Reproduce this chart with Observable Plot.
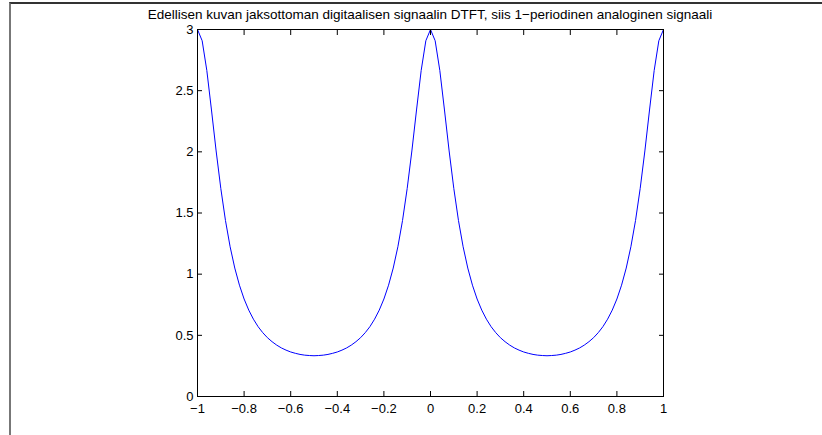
<!DOCTYPE html>
<html>
<head>
<meta charset="utf-8">
<script src="https://cdn.jsdelivr.net/npm/d3@7"></script>
<script src="https://cdn.jsdelivr.net/npm/@observablehq/plot@0.6"></script>
<style>
  html, body { margin: 0; padding: 0; background: #fff; }
  #wrap { position: relative; width: 822px; height: 435px; overflow: hidden; font-family: "Liberation Sans", Arial, sans-serif; }
  #border { position: absolute; left: 9px; top: 2px; width: 830px; height: 440px; border-top: 2px solid #333; border-left: 2px solid #777; box-sizing: border-box; }
  #title { position: absolute; left: 0; width: 860px; top: 7px; text-align: center; font-size: 13.5px; line-height: 15px; color: #000; white-space: nowrap; }
  svg { position: absolute; left: 0; top: 0; }
</style>
</head>
<body>
<div id="wrap">
  <div id="border"></div>
  <div id="title"></div>
</div>
<script>
const titleText = "Edellisen kuvan jaksottoman digitaalisen signaalin DTFT, siis 1\u2212periodinen analoginen signaali";

// normalized frequency, step 0.02 from -1 to 1
const freq = [
  -1.00,-0.98,-0.96,-0.94,-0.92,-0.90,-0.88,-0.86,-0.84,-0.82,
  -0.80,-0.78,-0.76,-0.74,-0.72,-0.70,-0.68,-0.66,-0.64,-0.62,
  -0.60,-0.58,-0.56,-0.54,-0.52,-0.50,-0.48,-0.46,-0.44,-0.42,
  -0.40,-0.38,-0.36,-0.34,-0.32,-0.30,-0.28,-0.26,-0.24,-0.22,
  -0.20,-0.18,-0.16,-0.14,-0.12,-0.10,-0.08,-0.06,-0.04,-0.02,
   0.00, 0.02, 0.04, 0.06, 0.08, 0.10, 0.12, 0.14, 0.16, 0.18,
   0.20, 0.22, 0.24, 0.26, 0.28, 0.30, 0.32, 0.34, 0.36, 0.38,
   0.40, 0.42, 0.44, 0.46, 0.48, 0.50, 0.52, 0.54, 0.56, 0.58,
   0.60, 0.62, 0.64, 0.66, 0.68, 0.70, 0.72, 0.74, 0.76, 0.78,
   0.80, 0.82, 0.84, 0.86, 0.88, 0.90, 0.92, 0.94, 0.96, 0.98,
   1.00
];

// magnitude
const magnitude = [
  3.000,2.908,2.665,2.342,2.007,1.701,1.439,1.224,1.050,0.910,
  0.797,0.706,0.632,0.571,0.522,0.481,0.448,0.420,0.397,0.379,
  0.364,0.353,0.344,0.338,0.335,0.333,0.335,0.338,0.344,0.353,
  0.364,0.379,0.397,0.420,0.448,0.481,0.522,0.571,0.632,0.706,
  0.797,0.910,1.050,1.224,1.439,1.701,2.007,2.342,2.665,2.908,
  3.000,2.908,2.665,2.342,2.007,1.701,1.439,1.224,1.050,0.910,
  0.797,0.706,0.632,0.571,0.522,0.481,0.448,0.420,0.397,0.379,
  0.364,0.353,0.344,0.338,0.335,0.333,0.335,0.338,0.344,0.353,
  0.364,0.379,0.397,0.420,0.448,0.481,0.522,0.571,0.632,0.706,
  0.797,0.910,1.050,1.224,1.439,1.701,2.007,2.342,2.665,2.908,
  3.000
];

const xTicks = [-1, -0.8, -0.6, -0.4, -0.2, 0, 0.2, 0.4, 0.6, 0.8, 1];
const yTicks = [0, 0.5, 1, 1.5, 2, 2.5, 3];

const data = freq.map((f, i) => ({f, m: magnitude[i]}));

const fmt = d => (d < 0 ? "\u2212" : "") + String(Math.abs(d));

const chart = Plot.plot({
  width: 822,
  height: 435,
  marginLeft: 197,
  marginRight: 159,
  marginTop: 29,
  marginBottom: 39,
  style: {fontFamily: "'Liberation Sans', Arial, sans-serif", fontSize: "13px", background: "transparent", color: "#000"},
  x: {domain: [-1, 1], ticks: xTicks},
  y: {domain: [0, 3], ticks: yTicks},
  marks: [
    Plot.line(data, {x: "f", y: "m", stroke: "#0000ff", strokeWidth: 1}),
    Plot.frame({stroke: "#000", strokeWidth: 1}),
    Plot.axisX(xTicks, {anchor: "bottom", tickSize: -5, text: null, label: null}),
    Plot.axisX(xTicks, {anchor: "top", tickSize: -5, text: null, label: null}),
    Plot.axisY(yTicks, {anchor: "left", tickSize: -5, text: null, label: null}),
    Plot.axisY(yTicks, {anchor: "right", tickSize: -5, text: null, label: null}),
    Plot.axisX(xTicks, {anchor: "bottom", tickSize: 0, tickPadding: 7, tickFormat: fmt, label: null, fill: "#000", fontSize: 13}),
    Plot.axisY(yTicks, {anchor: "left", tickSize: 0, tickPadding: 4, tickFormat: fmt, label: null, fill: "#000", fontSize: 13})
  ]
});

document.getElementById("wrap").appendChild(chart);
document.getElementById("title").textContent = titleText;
</script>
</body>
</html>
